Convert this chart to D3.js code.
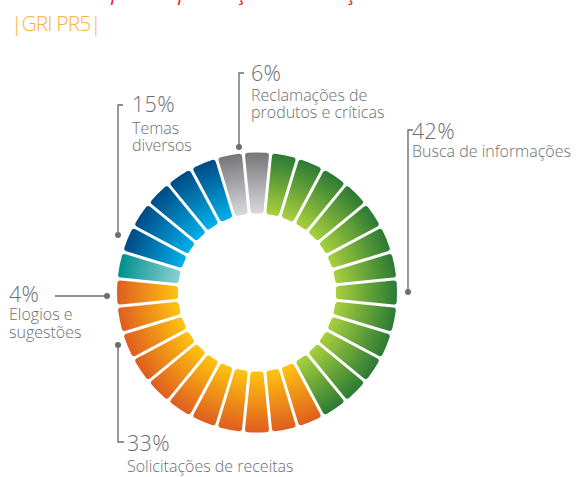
<!DOCTYPE html>
<html>
<head>
<meta charset="utf-8">
<script src="https://cdn.jsdelivr.net/npm/d3@7"></script>
<style>
  html, body { margin: 0; padding: 0; background: #fff; }
  svg { display: block; }
</style>
</head>
<body>
<script>
// Contact reasons and their shares (%)
const categories = ["Busca de informações", "Solicitações de receitas", "Elogios e sugestões", "Temas diversos", "Reclamações de produtos e críticas"];
const values = [42, 33, 4, 15, 6];
const valueLabels = ["42%", "33%", "4%", "15%", "6%"];
const labelLines = [
  ["Busca de informações"],
  ["Solicitações de receitas"],
  ["Elogios e", "sugestões"],
  ["Temas", "diversos"],
  ["Reclamações de", "produtos e críticas"]
];
const tileCount = 32;

// Tile gradients, inner edge -> outer edge
const palette = [
  ["#a9d03d", "#2b7a34"],
  ["#fec40f", "#df5d1f"],
  ["#8ad1d2", "#00918d"],
  ["#00b0ea", "#004a84"],
  ["#dadadc", "#767679"]
];

// Annotation layout: leader line path points, dot, text anchor, description baselines
const annotations = [
  { line: [[413, 130], [408, 130], [408, 292]], dot: [408, 292], x: 412, y: 139, lines: [157] },
  { line: [[124, 442], [118, 442], [118, 345]], dot: [118, 345], x: 127, y: 451, lines: [472] },
  { line: [[55, 296], [107, 296]], dot: [107, 296], x: 9, y: 302, lines: [320, 338] },
  { line: [[123, 105], [118, 105], [118, 235]], dot: [118, 235], x: 132, y: 112, lines: [134, 151] },
  { line: [[244, 73], [239, 73], [239, 147]], dot: [239, 147], x: 251, y: 81, lines: [101, 118] }
];

const W = 585, H = 477;
const cx = 257, cy = 292.5, rOuter = 140, rInner = 79;
const textColor = "#6d6e71";
const font = "'Open Sans', 'Noto Sans', sans-serif";

const svg = d3.select("body").append("svg")
  .attr("width", W).attr("height", H)
  .attr("viewBox", `0 0 ${W} ${H}`);

const defs = svg.append("defs");
palette.forEach((c, i) => {
  const g = defs.append("radialGradient")
    .attr("id", "grad" + i)
    .attr("gradientUnits", "userSpaceOnUse")
    .attr("cx", 0).attr("cy", 0).attr("r", rOuter);
  g.append("stop").attr("offset", rInner / rOuter).attr("stop-color", c[0]);
  g.append("stop").attr("offset", 1).attr("stop-color", c[1]);
});

// Title (running past the top edge) and reference tag
svg.append("text")
  .attr("x", 6).attr("y", 0)
  .attr("font-family", font).attr("font-style", "italic")
  .attr("font-size", 21).attr("fill", "#e4262f")
  .text("Demandas para a prestação de serviços");

svg.append("text")
  .attr("x", 11).attr("y", 31)
  .attr("font-family", font).attr("font-weight", 300)
  .attr("font-size", 21).attr("letter-spacing", -0.9)
  .attr("fill", "#fbb040")
  .text("|GRI PR5|");

// Share of the ring for each category
const pitch = 2 * Math.PI / tileCount;
const start = pitch / 2;
const pie = d3.pie().sort(null).value(d => d)
  .startAngle(start).endAngle(start + 2 * Math.PI);
const arcs = pie(values);

// Each tile takes the colour of the category whose share covers its centre
const tiles = d3.range(tileCount).map(k => {
  let a = k * pitch;
  if (a < start) a += 2 * Math.PI;
  const idx = arcs.findIndex(s => a >= s.startAngle && a < s.endAngle);
  return { startAngle: (k - 0.5) * pitch, endAngle: (k + 0.5) * pitch, cat: idx };
});

const tileArc = d3.arc()
  .innerRadius(rInner).outerRadius(rOuter)
  .padAngle(0.03).padRadius(100)
  .cornerRadius(3);

const ring = svg.append("g").attr("transform", `translate(${cx},${cy})`);
ring.selectAll("path.tile")
  .data(tiles)
  .join("path")
  .attr("class", "tile")
  .attr("d", tileArc)
  .attr("fill", d => `url(#grad${d.cat})`);

// Leader lines and labels
const ann = svg.append("g");
annotations.forEach((a, i) => {
  ann.append("path")
    .attr("d", d3.line()(a.line))
    .attr("fill", "none")
    .attr("stroke", textColor).attr("stroke-width", 1.4);
  ann.append("circle")
    .attr("cx", a.dot[0]).attr("cy", a.dot[1]).attr("r", 3)
    .attr("fill", textColor);
  ann.append("text")
    .attr("x", a.x).attr("y", a.y)
    .attr("font-family", font).attr("font-weight", 300)
    .attr("font-size", 21.5).attr("letter-spacing", 0.3)
    .attr("fill", textColor)
    .text(valueLabels[i]);
  labelLines[i].forEach((t, j) => {
    ann.append("text")
      .attr("x", a.x).attr("y", a.lines[j])
      .attr("font-family", font).attr("font-weight", 300)
      .attr("font-size", 16).attr("fill", textColor)
      .text(t);
  });
});
</script>
</body>
</html>
